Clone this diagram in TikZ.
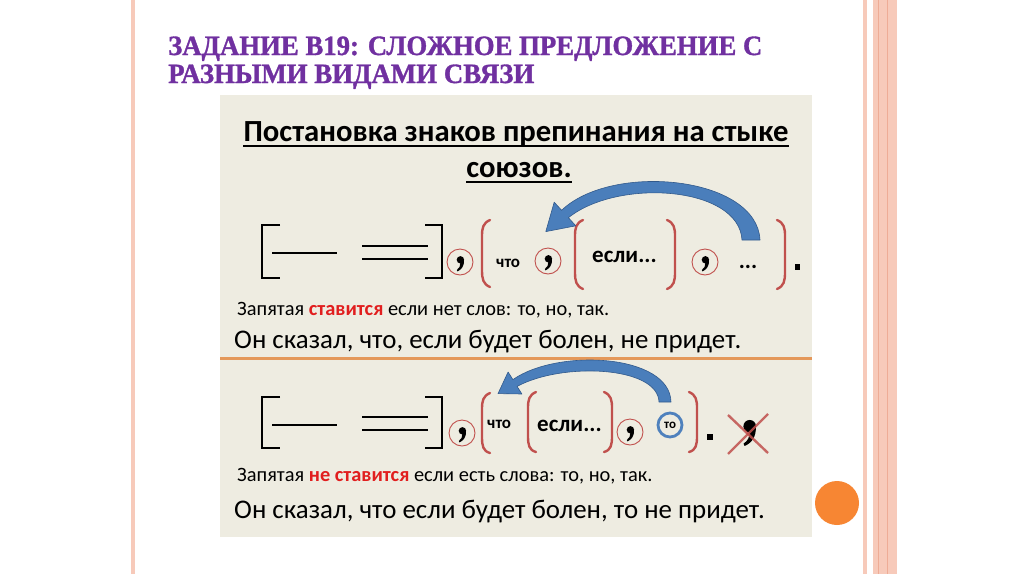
\documentclass[tikz,border=0pt]{standalone}
\usepackage{fontspec}
\setmainfont{Carlito}
\newfontfamily\titlefont[BoldFeatures={FakeBold=1.2}]{Liberation Serif}
\usetikzlibrary{calc}
\definecolor{panel}{RGB}{238,236,225}
\definecolor{titlepurple}{RGB}{112,48,160}
\definecolor{bracketred}{RGB}{192,80,77}
\definecolor{textred}{RGB}{225,30,30}
\definecolor{arrowblue}{RGB}{74,126,187}
\definecolor{arrowedge}{RGB}{50,90,140}
\definecolor{borderpink}{RGB}{247,202,186}
\definecolor{borderdark}{RGB}{238,172,150}
\definecolor{sepline}{RGB}{228,152,90}
\definecolor{dotorange}{RGB}{247,134,51}
\definecolor{ringblue}{RGB}{79,129,189}
\tikzset{
  txt/.style={inner sep=0pt, anchor=base west},
  blk/.style={line width=2.6pt, line cap=butt, line join=miter},
  dash1/.style={line width=2.4pt},
  redbr/.style={bracketred, line width=2.4pt, line cap=round},
  redring/.style={draw=bracketred, line width=0.9pt, circle, minimum size=26pt, inner sep=0pt},
  bluearrow/.style={fill=arrowblue, draw=arrowedge, line width=0.6pt, line join=round},
  smallbold/.style={inner sep=0pt, font=\bfseries\fontsize{17}{17}\selectfont},
  midbold/.style={inner sep=0pt, font=\bfseries\fontsize{23}{23}\selectfont},
  commamark/.pic={
    \fill (0.4,-2.2) circle (3.7);
    \fill (4.0,-2.4) .. controls (4.4,4) and (1.6,7.6) .. (-2.6,9.4) -- (-3.2,8.0) .. controls (-0.6,6.4) and (0.6,3.6) .. (0.2,1.4) -- cycle;
  },
}
\begin{document}
\begin{tikzpicture}[x=1pt,y=-1pt]
\useasboundingbox (0,0) rectangle (1024,574);
\fill[white] (0,0) rectangle (1024,574);
% borders
\fill[borderpink] (131,0) rectangle (135,574);
\fill[borderpink] (863,0) rectangle (867,574);
\fill[borderpink] (873,0) rectangle (897,574);
\draw[borderdark, line width=1pt] (878,0) -- (878,574);
\draw[borderdark, line width=1pt] (887,0) -- (887,574);
% panel
\fill[panel] (220,95) rectangle (812,537);
\draw[sepline, line width=3pt] (220,358) -- (812,358);
% title
\node[txt, text=titlepurple] (t1) at (168,55) {\resizebox{594pt}{18.5pt}{\titlefont\bfseries ЗАДАНИЕ B19: СЛОЖНОЕ ПРЕДЛОЖЕНИЕ С}};
\node[txt, text=titlepurple] (t2) at (168,83) {\resizebox{366pt}{18.5pt}{\titlefont\bfseries РАЗНЫМИ ВИДАМИ СВЯЗИ}};
% heading
\node[inner sep=0pt, anchor=base, font=\bfseries\fontsize{30.7}{32}\selectfont] (h1) at (516,141) {Постановка знаков препинания на стыке};
\node[inner sep=0pt, anchor=base, font=\bfseries\fontsize{30.7}{32}\selectfont] (h2) at (519,177) {союзов.};
\draw[line width=2.2pt] ($(h1.base west)+(0,5)$) -- ($(h1.base east)+(0,5)$);
\draw[line width=2.2pt] ($(h2.base west)+(0,5)$) -- ($(h2.base east)+(0,5)$);

% ---------- row 1 ----------
\draw[blk] (280,225) -- (262,225) -- (262,278) -- (280,278);
\draw[blk] (425,225) -- (442,225) -- (442,278) -- (425,278);
\draw[dash1] (272,253) -- (337,253);
\draw[dash1] (362,246) -- (428,246);
\draw[dash1] (362,259) -- (428,259);
\node[redring] (c1) at (460,262) {};
\pic at (c1.center) {commamark};
\draw[redbr] (490,220) .. controls (483,223) and (482,228) .. (482,236) -- (482,270) .. controls (482,279) and (483,284) .. (490,287);
\node[smallbold, anchor=base west] (w1) at (496,267) {что};
\node[redring] (c2) at (548,261) {};
\pic at (c2.center) {commamark};
\draw[redbr] (583,220) .. controls (576,223) and (575,228) .. (575,236) -- (575,272) .. controls (575,281) and (576,286) .. (583,289);
\node[midbold, anchor=base west] (e1) at (592,262) {если...};
\draw[redbr] (667,220) .. controls (674,223) and (675,228) .. (675,236) -- (675,272) .. controls (675,281) and (674,286) .. (667,289);
\node[redring] (c3) at (705,262) {};
\pic at (c3.center) {commamark};
\node[midbold, anchor=base] (d1) at (748,268) {...};
\draw[redbr] (777,220) .. controls (784,223) and (785,228) .. (785,236) -- (785,272) .. controls (785,281) and (784,286) .. (777,289);
\fill (794.5,264) rectangle (800,269.5);
% arrow 1
\path[bluearrow] (760,240) .. controls (757,176) and (612,162) .. (561.6,210.3) -- (554.2,202.2) -- (545.8,231.6) -- (575.8,225.8) -- (568.4,217.7) .. controls (618,178) and (739,186) .. (742,240) -- cycle;

\node[txt, font=\fontsize{20.4}{20.4}\selectfont] (r1) at (237,315) {Запятая \textcolor{textred}{\bfseries ставится} если нет слов: то, но, так.};
\node[txt, font=\fontsize{26.9}{26.9}\selectfont] (s1) at (234,348) {Он сказал, что, если будет болен, не придет.};

% ---------- row 2 ----------
\draw[blk] (280,397) -- (262,397) -- (262,448) -- (280,448);
\draw[blk] (425,397) -- (442,397) -- (442,448) -- (425,448);
\draw[dash1] (272,425) -- (337,425);
\draw[dash1] (362,417) -- (428,417);
\draw[dash1] (362,430) -- (428,430);
\node[redring] (c4) at (462,433) {};
\pic at (c4.center) {commamark};
\draw[redbr] (490,393) .. controls (483,396) and (482,401) .. (482,409) -- (482,437) .. controls (482,446) and (483,451) .. (490,453);
\node[smallbold, anchor=base west] (w2) at (487,428) {что};
\draw[redbr] (536,392) .. controls (529,395) and (528,400) .. (528,408) -- (528,436) .. controls (528,445) and (529,450) .. (536,452);
\node[midbold, anchor=base west] (e2) at (537,431) {если...};
\draw[redbr] (604,392) .. controls (611,395) and (612,400) .. (612,408) -- (612,436) .. controls (612,445) and (611,450) .. (604,452);
\node[redring] (c5) at (630,432) {};
\pic at (c5.center) {commamark};
\node[draw=ringblue, line width=2.8pt, circle, minimum size=24pt, inner sep=0pt, font=\bfseries\fontsize{13}{13}\selectfont] (to) at (670,425) {то};
\draw[redbr] (689,392) .. controls (696,395) and (697,400) .. (697,408) -- (697,436) .. controls (697,445) and (696,450) .. (689,452);
\fill (707,434) rectangle (713,440);
\coordinate (xc) at (749,430);
\pic[scale=1.7] at (xc) {commamark};
\draw[bracketred, line width=2.4pt, opacity=0.85] (728,415) -- (768,453);
\draw[bracketred, line width=2.4pt, opacity=0.85] (768,414) -- (728,454);
% arrow 2
\path[bluearrow] (671,402) .. controls (670,354) and (558,348) .. (512.9,379.6) -- (508.1,372) -- (498,393.6) -- (521.9,394) -- (517.1,386.4) .. controls (562,362) and (658,366) .. (659,402) -- cycle;

\node[txt, font=\fontsize{20.4}{20.4}\selectfont] (r2) at (237,481) {Запятая \textcolor{textred}{\bfseries не ставится} если есть слова: то, но, так.};
\node[txt, font=\fontsize{26.9}{26.9}\selectfont] (s2) at (234,518) {Он сказал, что если будет болен, то не придет.};

% orange dot
\fill[dotorange] (837,503) circle (22);
\end{tikzpicture}
\end{document}
